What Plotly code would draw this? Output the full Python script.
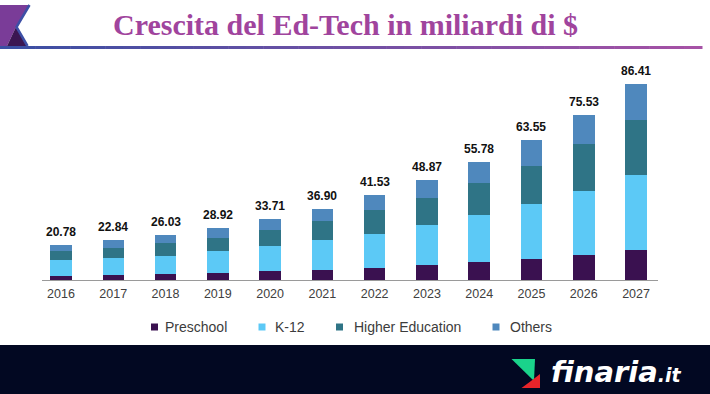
import plotly.graph_objects as go

# ---------------- data ----------------
years = ["2016", "2017", "2018", "2019", "2020", "2021", "2022", "2023", "2024", "2025", "2026", "2027"]
total_labels = ["20.78", "22.84", "26.03", "28.92", "33.71", "36.90", "41.53", "48.87", "55.78", "63.55", "75.53", "86.41"]
preschool = [1.8, 2.1, 2.6, 3.0, 3.9, 4.6, 5.5, 6.4, 8.0, 9.3, 11.2, 13.4]
k12 = [7.0, 7.6, 8.1, 9.7, 11.0, 12.9, 14.9, 17.9, 20.5, 24.4, 28.1, 33.0]
higher_ed = [4.1, 4.5, 5.5, 6.0, 7.2, 8.6, 10.4, 11.9, 14.4, 16.7, 20.4, 24.1]
others = [2.5, 3.3, 3.5, 4.0, 4.9, 5.4, 6.5, 7.8, 9.1, 11.3, 12.9, 15.9]
series_names = ["Preschool", "K-12", "Higher Education", "Others"]
series_values = [preschool, k12, higher_ed, others]
series_colors = ["#3a1150", "#5cc9f6", "#2f7486", "#4f88bd"]

# ---------------- geometry helpers ----------------
W, H = 710, 394
L, R, T, B = 42, 52, 60, 114
PW, PH = W - L - R, H - T - B


def px(x):
    return (x - L) / PW


def py(y):
    return (H - B - y) / PH


fig = go.Figure()
for name, vals, col in zip(series_names, series_values, series_colors):
    fig.add_trace(go.Bar(x=years, y=vals, name=name, marker_color=col,
                         marker_line_width=0, hoverinfo="skip"))

totals = [sum(v) for v in zip(*series_values)]
annotations = []
for i, (tot, lab) in enumerate(zip(totals, total_labels)):
    annotations.append(dict(x=i, y=tot, xref="x", yref="y", text="<b>" + lab + "</b>",
                            showarrow=False, yanchor="middle", yshift=13,
                            font=dict(family="Liberation Sans, Arial", size=12, color="#111111")))

# title
annotations.append(dict(x=px(345), y=py(25), xref="paper", yref="paper",
                        text="<b>Crescita del Ed-Tech in miliardi di $</b>", showarrow=False,
                        xanchor="center", yanchor="middle",
                        font=dict(family="Liberation Serif, Times New Roman", size=30, color="#a0449d")))

shapes = []
# custom legend
leg_sq = [151, 258.5, 336, 492.5]
leg_tx = [163, 272.5, 351.5, 507.5]
for name, col, sx, tx in zip(series_names, series_colors, leg_sq, leg_tx):
    shapes.append(dict(type="rect", xref="paper", yref="paper", x0=px(sx), x1=px(sx + 7),
                       y0=py(330.5), y1=py(323.5), fillcolor=col, line_width=0))
    annotations.append(dict(x=px(tx), y=py(327), xref="paper", yref="paper", text=name,
                            showarrow=False, xanchor="left", yanchor="middle",
                            font=dict(family="Liberation Sans, Arial", size=14, color="#3c3c3c")))

# header gradient line
n = 40
c0, c1 = (59, 79, 163), (166, 82, 166)
for i in range(n):
    t = i / (n - 1)
    c = tuple(int(c0[k] + (c1[k] - c0[k]) * t) for k in range(3))
    x0 = 0 + 702 * i / n
    x1 = 0 + 702 * (i + 1) / n + 0.5
    shapes.append(dict(type="line", xref="paper", yref="paper", x0=px(x0), x1=px(x1),
                       y0=py(47.5), y1=py(47.5), line=dict(color="rgb(%d,%d,%d)" % c, width=3)))


def path(pts):
    return "M " + " L ".join("%f,%f" % (px(a), py(b)) for a, b in pts) + " Z"


# top-left logo
shapes.append(dict(type="path", xref="paper", yref="paper",
                   path=path([(0, 5), (29, 5), (16, 27), (7, 46), (0, 46)]),
                   fillcolor="#7a3c98", line_width=0))
shapes.append(dict(type="path", xref="paper", yref="paper",
                   path=path([(16, 27), (7, 46), (27, 46)]),
                   fillcolor="#3b1652", line_width=0))
shapes.append(dict(type="path", xref="paper", yref="paper",
                   path="M %f,%f L %f,%f L %f,%f" % (px(29.5), py(5), px(16.5), py(27), px(27.5), py(46)),
                   line=dict(color="#3d4fa6", width=2.5)))

# bottom banner
shapes.append(dict(type="rect", xref="paper", yref="paper", x0=px(-5), x1=px(715),
                   y0=py(400), y1=py(345), fillcolor="#020822", line_width=0, layer="above"))
# finaria icon
shapes.append(dict(type="path", xref="paper", yref="paper",
                   path=path([(511.5, 359), (535, 359), (534, 381)]),
                   fillcolor="#1ad38b", line_width=0, layer="above"))
shapes.append(dict(type="path", xref="paper", yref="paper",
                   path=path([(521.5, 388), (540, 388), (540, 374), (531, 381)]),
                   fillcolor="#e8242a", line_width=0, layer="above"))
annotations.append(dict(x=px(549), y=py(372), xref="paper", yref="paper",
                        text="<b><i>finaria</i></b><span style='font-size:19px'><b><i>.it</i></b></span>",
                        showarrow=False, xanchor="left", yanchor="middle",
                        font=dict(family="DejaVu Sans", size=29, color="#ffffff")))

fig.update_layout(
    width=W, height=H,
    margin=dict(l=L, r=R, t=T, b=B, pad=0),
    barmode="stack", bargap=0.589,
    paper_bgcolor="white", plot_bgcolor="white",
    showlegend=False,
    xaxis=dict(type="category", range=[-0.363, 11.42], showgrid=False, zeroline=False,
               showline=True, linecolor="#9a9a9a", linewidth=1, ticks="",
               ticklabelstandoff=2,
               tickfont=dict(family="Liberation Sans, Arial", size=12.5, color="#404040")),
    yaxis=dict(range=[0, PH / 2.27], visible=False, showgrid=False, zeroline=False),
    annotations=annotations,
    shapes=shapes,
    hovermode=False,
)

fig.write_html("out.html", config={"displayModeBar": False, "staticPlot": True},
               post_script="document.body.style.margin='0';document.body.style.padding='0';")
